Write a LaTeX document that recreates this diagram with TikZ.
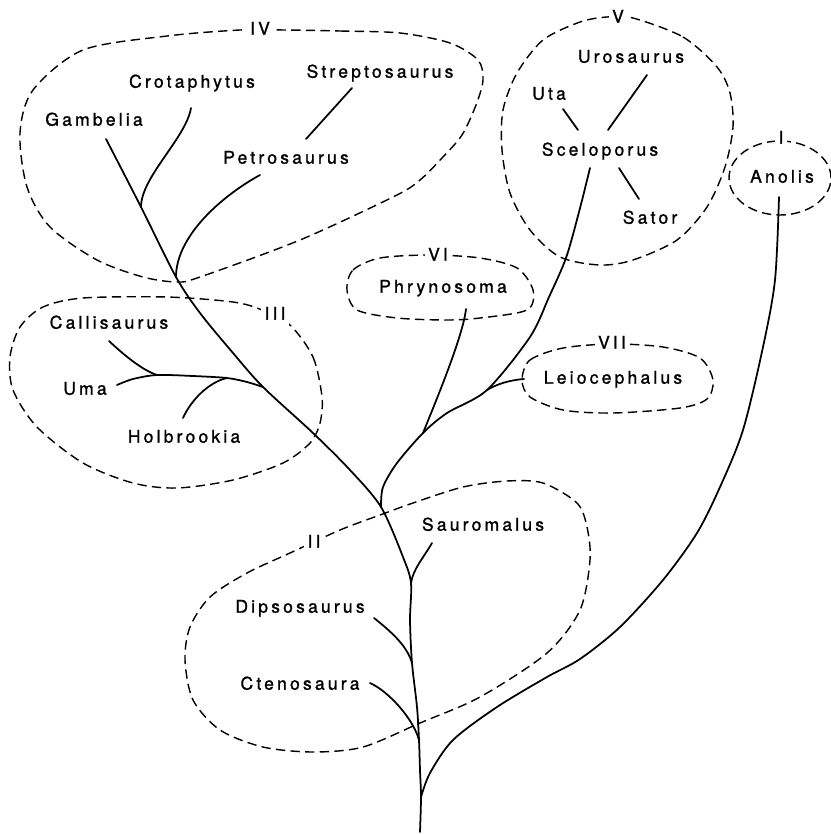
\documentclass[tikz,border=0pt]{standalone}
\usepackage{fontspec}
\newfontfamily\lizardfont[LetterSpace=18, FakeBold=1.2]{TeX Gyre Heros}
\usepackage{tikz}
\usetikzlibrary{calc}
\tikzset{taxon/.style={font=\lizardfont\fontsize{15}{18}\selectfont, inner sep=2pt, text height=11pt, text depth=3pt}}
\tikzset{cladename/.style={taxon, fill=white, inner sep=3pt}}
\tikzset{limb/.style={line width=1.5pt, line cap=round, line join=round}}
\tikzset{cladeline/.style={line width=1.2pt, dash pattern=on 8pt off 4.5pt}}

\begin{document}
\begin{tikzpicture}[x=0.03cm, y=-0.03cm]
\useasboundingbox (0,0) rectangle (830,834);
\node[taxon] (gambelia) at (94,121) {Gambelia};
\node[taxon] (crotaphytus) at (192,83) {Crotaphytus};
\node[taxon] (streptosaurus) at (380,73) {Streptosaurus};
\node[taxon] (petrosaurus) at (286,159) {Petrosaurus};
\node[taxon] (callisaurus) at (109,324) {Callisaurus};
\node[taxon] (uma) at (85,390) {Uma};
\node[taxon] (holbrookia) at (184,438) {Holbrookia};
\node[taxon] (phrynosoma) at (443,288) {Phrynosoma};
\node[taxon] (leiocephalus) at (613,379) {Leiocephalus};
\node[taxon] (urosaurus) at (631,58) {Urosaurus};
\node[taxon] (uta) at (549,95) {Uta};
\node[taxon] (sceloporus) at (600,151) {Sceloporus};
\node[taxon] (sator) at (650,219) {Sator};
\node[taxon] (anolis) at (782,178) {Anolis};
\node[taxon] (sauromalus) at (483,526) {Sauromalus};
\node[taxon] (dipsosaurus) at (300,608) {Dipsosaurus};
\node[taxon] (ctenosaura) at (300,685) {Ctenosaura};
% branch ends next to the names
\coordinate (gambeliaT) at ($(gambelia)+(12,18)$);
\coordinate (crotaphytusT) at ($(crotaphytus)+(-1,25)$);
\coordinate (petrosaurusT) at ($(petrosaurus)+(-26,16)$);
\coordinate (petrosaurusN) at ($(petrosaurus)+(20,-20)$);
\coordinate (streptosaurusT) at ($(streptosaurus)+(-28,15)$);
\coordinate (callisaurusT) at ($(callisaurus)+(0,17)$);
\coordinate (umaT) at ($(uma)+(32,-5)$);
\coordinate (holbrookiaT) at ($(holbrookia)+(-1,-20)$);
\coordinate (phrynosomaT) at ($(phrynosoma)+(23,21)$);
\coordinate (leiocephalusT) at ($(leiocephalus)+(-89,0)$);
\coordinate (sceloporusT) at ($(sceloporus)+(-10,17)$);
\coordinate (sceloporusU) at ($(sceloporus)+(-22,-21)$);
\coordinate (sceloporusR) at ($(sceloporus)+(8,-21)$);
\coordinate (sceloporusS) at ($(sceloporus)+(19,17)$);
\coordinate (utaT) at ($(uta)+(14,14)$);
\coordinate (urosaurusT) at ($(urosaurus)+(16,17)$);
\coordinate (satorT) at ($(sator)+(-11,-20)$);
\coordinate (anolisT) at ($(anolis)+(-3,19)$);
\coordinate (sauromalusT) at ($(sauromalus)+(-51,17)$);
\coordinate (dipsosaurusT) at ($(dipsosaurus)+(74,10)$);
\coordinate (ctenosauraT) at ($(ctenosaura)+(70,-2)$);
% forks
\coordinate (root) at (420,832);
\coordinate (jAno) at (421,797);
\coordinate (jCte) at (419,740);
\coordinate (jDip) at (412,663);
\coordinate (jSau) at (411,583);
\coordinate (jBig) at (381,507);
\coordinate (jCal) at (263,387);
\coordinate (jPet) at (176,277);
\coordinate (jCro) at (141,207);
\coordinate (jPhr) at (423,433);
\coordinate (jLei) at (487,390);
\coordinate (jHol) at (227,378);
\coordinate (jUma) at (157,375);
\draw[limb] plot[smooth] coordinates {(root) (jAno) (420,770) (jCte) (417,707) (jDip) (410,620) (jSau) (403,557) (jBig) (350,470) (313,433) (jCal) (233,353) (200,313) (jPet) (jCro) (gambeliaT)};
\draw[limb] (crotaphytusT) .. controls +(-5,30) and +(0,-30) .. (jCro);
\draw[limb] (petrosaurusT) .. controls +(-40,22) and +(0,-40) .. (jPet);
\draw[limb] (streptosaurusT) -- (petrosaurusN);
\draw[limb] (callisaurusT) .. controls +(15,14) and +(-15,-5) .. (jUma);
\draw[limb] plot[smooth] coordinates {(umaT) (133,379) (jUma) (193,376) (jHol) (247,382) (jCal)};
\draw[limb] (holbrookiaT) .. controls +(8,-18) and +(-18,4) .. (jHol);
\draw[limb] plot[smooth] coordinates {(jBig) (383,487) (397,463) (jPhr) (447,413) (jLei) (530,337) (549,297) (566,258) (579,212) (sceloporusT)};
\draw[limb] (phrynosomaT) .. controls +(-3,28) and +(10,-25) .. (jPhr);
\draw[limb] (leiocephalusT) .. controls +(-14,1) and +(10,-6) .. (jLei);
\draw[limb] (utaT) -- (sceloporusU);
\draw[limb] (urosaurusT) -- (sceloporusR);
\draw[limb] (satorT) -- (sceloporusS);
\draw[limb] plot[smooth] coordinates {(jAno) (430,773) (453,740) (497,707) (547,677) (580,659) (620,627) (663,580) (697,533) (720,487) (743,430) (763,347) (775,280) (anolisT)};
\draw[limb] (sauromalusT) .. controls +(-8,14) and +(2,-14) .. (jSau);
\draw[limb] (dipsosaurusT) .. controls +(15,12) and +(-5,-18) .. (jDip);
\draw[limb] (ctenosauraT) .. controls +(18,8) and +(-6,-22) .. (jCte);
% clades
\draw[cladeline] (780,178) ellipse [x radius=1.53cm, y radius=1.11cm];
\draw[cladeline] plot[smooth cycle] coordinates {(340,530) (380,515) (413,503) (463,487) (507,481) (543,483) (577,503) (587,527) (590,560) (580,610) (547,653) (480,697) (420,723) (363,747) (313,752) (263,747) (220,730) (193,700) (185,660) (190,627) (210,597) (247,573) (290,553)};
\draw[cladeline] plot[smooth cycle] coordinates {(290,325) (313,357) (322,397) (320,423) (310,443) (283,463) (233,480) (177,488) (133,483) (83,463) (37,427) (13,390) (10,357) (20,327) (43,307) (83,298) (167,297) (233,302) (262,310)};
\draw[cladeline] plot[smooth cycle] coordinates {(285,30) (340,31) (400,33) (450,43) (478,60) (483,80) (476,105) (462,135) (442,158) (420,180) (395,196) (300,240) (200,277) (177,282) (143,277) (97,260) (50,227) (27,187) (20,133) (33,90) (83,50) (167,36) (240,30)};
\draw[cladeline] plot[smooth cycle] coordinates {(633,18) (683,37) (717,67) (730,93) (733,127) (725,167) (707,207) (677,240) (633,260) (600,265) (560,257) (530,230) (510,193) (502,150) (503,110) (517,73) (543,40) (580,22) (607,17)};
\draw[cladeline] plot[smooth cycle] coordinates {(347,290) (353,270) (380,258) (430,255) (480,258) (517,268) (533,290) (527,310) (480,318) (447,320) (397,318) (357,310)};
\draw[cladeline] plot[smooth cycle] coordinates {(522,380) (530,360) (563,348) (612,344) (663,347) (700,358) (713,380) (707,399) (680,408) (613,413) (563,410) (530,397)};
\node[cladename] (cladeI) at (781,139) {I};
\node[cladename] (cladeII) at (314,543) {II};
\node[cladename] (cladeIII) at (275,315) {III};
\node[cladename] (cladeIV) at (260,30) {IV};
\node[cladename] (cladeV) at (618,18) {V};
\node[cladename] (cladeVI) at (438,256) {VI};
\node[cladename] (cladeVII) at (612,344) {VII};
\end{tikzpicture}
\end{document}
